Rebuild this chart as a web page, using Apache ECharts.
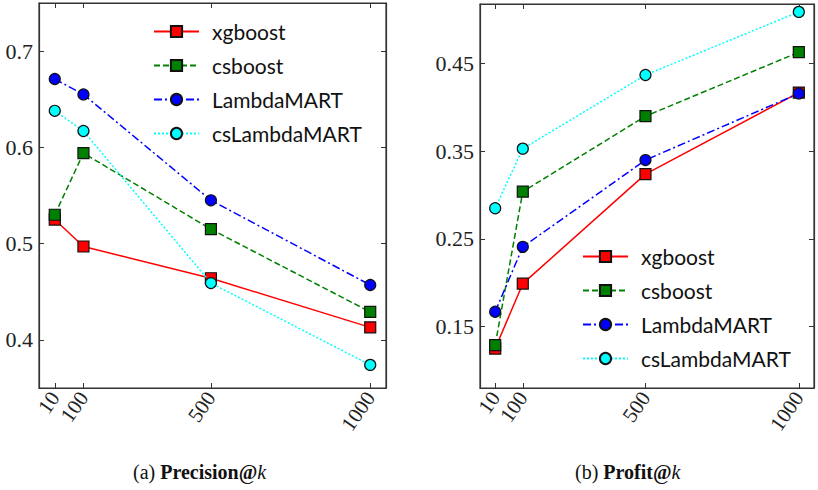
<!DOCTYPE html>
<html>
<head>
<meta charset="utf-8">
<script src="https://cdn.jsdelivr.net/npm/echarts@6/dist/echarts.min.js"></script>
<style>
  html, body { margin: 0; padding: 0; background: #fff; }
  #chart { width: 818px; height: 490px; }
</style>
</head>
<body>
<div id="chart"></div>
<script>
var chart = echarts.init(document.getElementById('chart'), null, {renderer: 'svg'});

// k values on the x axis
var ks = [10, 100, 500, 1000];
var names = ['xgboost', 'csboost', 'LambdaMART', 'csLambdaMART'];

// (a) Precision@k
var precXgboost = [0.525, 0.497, 0.464, 0.413];
var precCsboost = [0.530, 0.594, 0.515, 0.429];
var precLambda = [0.671, 0.655, 0.545, 0.457];
var precCsLambda = [0.638, 0.617, 0.459, 0.374];

// (b) Profit@k
var profXgboost = [0.125, 0.199, 0.324, 0.417];
var profCsboost = [0.129, 0.304, 0.390, 0.463];
var profLambda = [0.167, 0.241, 0.340, 0.416];
var profCsLambda = [0.285, 0.353, 0.437, 0.509];

var precTicks = [0.4, 0.5, 0.6, 0.7];
var profTicks = [0.15, 0.25, 0.35, 0.45];

var styles = [
    {color: '#ff0000', type: 'solid', symbol: 'rect'},
    {color: '#008000', type: [6, 3], symbol: 'rect'},
    {color: '#0000ff', type: [8, 3, 2, 3], symbol: 'circle'},
    {color: '#00ffff', type: [2, 2], symbol: 'circle'}
];

function pairs(ys) {
    return ks.map(function (k, i) { return [k, ys[i]]; });
}

function makeSeries(data, idx) {
    return data.map(function (ys, i) {
        return {
            name: names[i],
            type: 'line',
            xAxisIndex: idx,
            yAxisIndex: idx,
            data: pairs(ys),
            symbol: styles[i].symbol,
            symbolSize: 11,
            itemStyle: {color: styles[i].color, borderColor: '#111', borderWidth: 1.2},
            lineStyle: {color: styles[i].color, width: 1.5, type: styles[i].type},
            z: 3 + i
        };
    });
}

var axisColor = '#333';
var serif = 'Liberation Serif';

function xAx(grid, top) {
    return {
        type: 'value', gridIndex: grid, min: -39.5, max: 1049.5,
        position: top ? 'top' : 'bottom',
        splitLine: {show: false},
        axisLine: {show: true, onZero: false, lineStyle: {color: axisColor, width: 1.2}},
        axisTick: {show: true, inside: true, length: 5, customValues: ks, lineStyle: {color: axisColor}},
        axisLabel: {show: !top, customValues: ks, rotate: 55, margin: 6,
            fontFamily: serif, fontSize: 21, color: '#222',
            formatter: function (v) { return String(v); }}
    };
}

function yAx(grid, right, min, max, ticks) {
    return {
        type: 'value', gridIndex: grid, min: min, max: max,
        position: right ? 'right' : 'left',
        splitLine: {show: false},
        axisLine: {show: true, onZero: false, lineStyle: {color: axisColor, width: 1.2}},
        axisTick: {show: true, inside: true, length: 5, customValues: ticks, lineStyle: {color: axisColor}},
        axisLabel: {show: !right, customValues: ticks, margin: 6,
            fontFamily: serif, fontSize: 22, color: '#222',
            formatter: function (v) { return String(v); }}
    };
}

function legendAt(left, top) {
    return {
        data: names, orient: 'vertical', left: left, top: top,
        itemWidth: 45, itemHeight: 14, itemGap: 13,
        textStyle: {fontFamily: 'Lato', fontSize: 21, color: '#111', lineHeight: 20, padding: [0, 0, 0, 8]}
    };
}

var captionRich = {
    b: {fontWeight: 'bold', fontFamily: serif, fontSize: 20},
    i: {fontStyle: 'italic', fontFamily: serif, fontSize: 20}
};

var option = {
    animation: false,
    backgroundColor: '#fff',
    grid: [
        {left: 39, top: 3, width: 347, height: 385, show: true, borderColor: axisColor, borderWidth: 1.2},
        {left: 480, top: 4, width: 334, height: 384, show: true, borderColor: axisColor, borderWidth: 1.2}
    ],
    xAxis: [xAx(0, false), xAx(1, false), xAx(0, true), xAx(1, true)],
    yAxis: [
        yAx(0, false, 0.35, 0.75, precTicks),
        yAx(1, false, 0.08, 0.518, profTicks),
        yAx(0, true, 0.35, 0.75, precTicks),
        yAx(1, true, 0.08, 0.518, profTicks)
    ],
    legend: [legendAt(148, 16), legendAt(577, 241)],
    series: makeSeries([precXgboost, precCsboost, precLambda, precCsLambda], 0)
        .concat(makeSeries([profXgboost, profCsboost, profLambda, profCsLambda], 1)),
    graphic: [
        {type: 'text', left: 133, top: 462, style: {
            text: '(a) {b|Precision@}{i|k}', rich: captionRich,
            fontFamily: serif, fontSize: 20, fill: '#111'}},
        {type: 'text', left: 575, top: 462, style: {
            text: '(b) {b|Profit@}{i|k}', rich: captionRich,
            fontFamily: serif, fontSize: 20, fill: '#111'}}
    ]
};

chart.setOption(option);
</script>
</body>
</html>
